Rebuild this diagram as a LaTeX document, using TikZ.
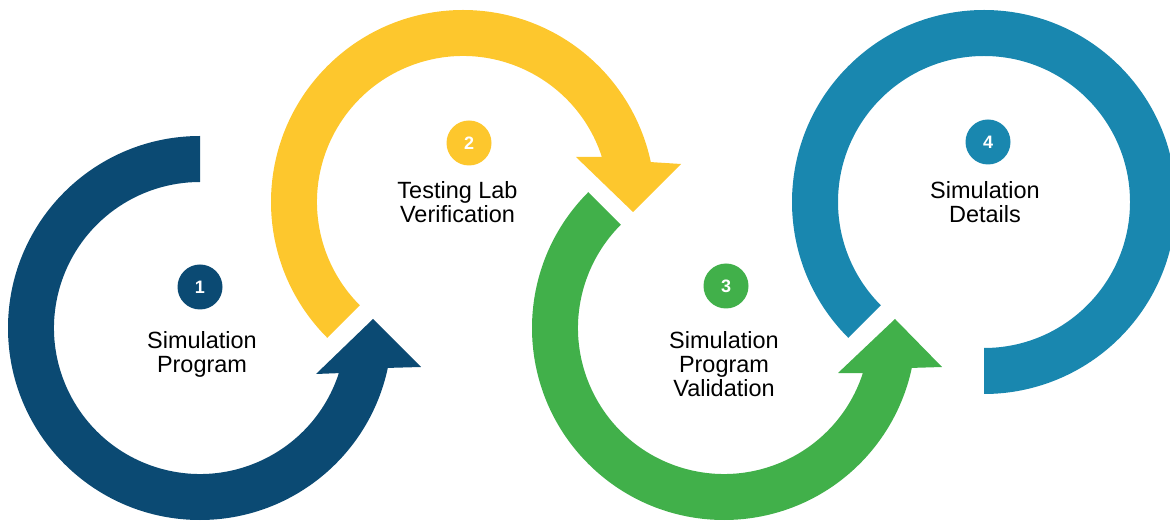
\documentclass[tikz,border=0pt]{standalone}
\usepackage{fontspec}
\setmainfont{Liberation Sans}
\definecolor{navyblue}{RGB}{11,74,115}
\definecolor{sunyellow}{RGB}{253,199,45}
\definecolor{leafgreen}{RGB}{65,176,74}
\definecolor{oceanteal}{RGB}{25,135,175}
\begin{document}
\begin{tikzpicture}[x=0.75pt,y=0.75pt,
    numdot/.style={circle,fill=#1,minimum size=33.75pt,inner sep=0pt,text=white,
        font=\fontsize{13.5}{14}\selectfont\bfseries},
    steptext/.style={align=center,inner sep=0pt,font=\fontsize{17.6}{18}\selectfont}]
    \useasboundingbox (0,0) rectangle (1170,521);
    \clip (0,0) rectangle (1170,521);

    % ring 1: from the top, anticlockwise, arrow at the lower right
    \fill[navyblue,shift={(200,193)}] (90:192) arc[start angle=90,end angle=348,radius=192]
        -- (221,-39) -- (173,9) -- (116,-46)
        -- (342:146) arc[start angle=342,end angle=90,radius=146] -- cycle;

    % ring 2: from the lower left, clockwise, arrow at the upper right
    \fill[sunyellow,shift={(463,319)}] (225:192) arc[start angle=225,end angle=12,radius=192]
        -- (218,38) -- (170,-10) -- (113,45)
        -- (18:146) arc[start angle=18,end angle=225,radius=146] -- cycle;

    % ring 3: mirrors ring 1, starts at the upper left
    \fill[leafgreen,shift={(724,193)}] (135:192) arc[start angle=135,end angle=348,radius=192]
        -- (218,-39) -- (171,9) -- (114,-45)
        -- (342:146) arc[start angle=342,end angle=135,radius=146] -- cycle;

    % ring 4: no arrow, ends at the bottom
    \fill[oceanteal,shift={(984,319)}] (225:192) arc[start angle=225,end angle=-90,radius=192]
        -- (-90:146) arc[start angle=-90,end angle=225,radius=146] -- cycle;

    \node[numdot=navyblue] (num1) at (200,234) {1};
    \node[numdot=sunyellow] (num2) at (469,378) {2};
    \node[numdot=leafgreen] (num3) at (726,235) {3};
    \node[numdot=oceanteal] (num4) at (988,379) {4};

    \node[steptext] (label1) at (202,166.7) {Simulation\\Program};
    \node[steptext] (label2) at (457.5,318.4) {Testing Lab\\Verification};
    \node[steptext] (label3) at (724,157.1) {Simulation\\Program\\Validation};
    \node[steptext] (label4) at (985,319.1) {Simulation\\Details};
\end{tikzpicture}
\end{document}
